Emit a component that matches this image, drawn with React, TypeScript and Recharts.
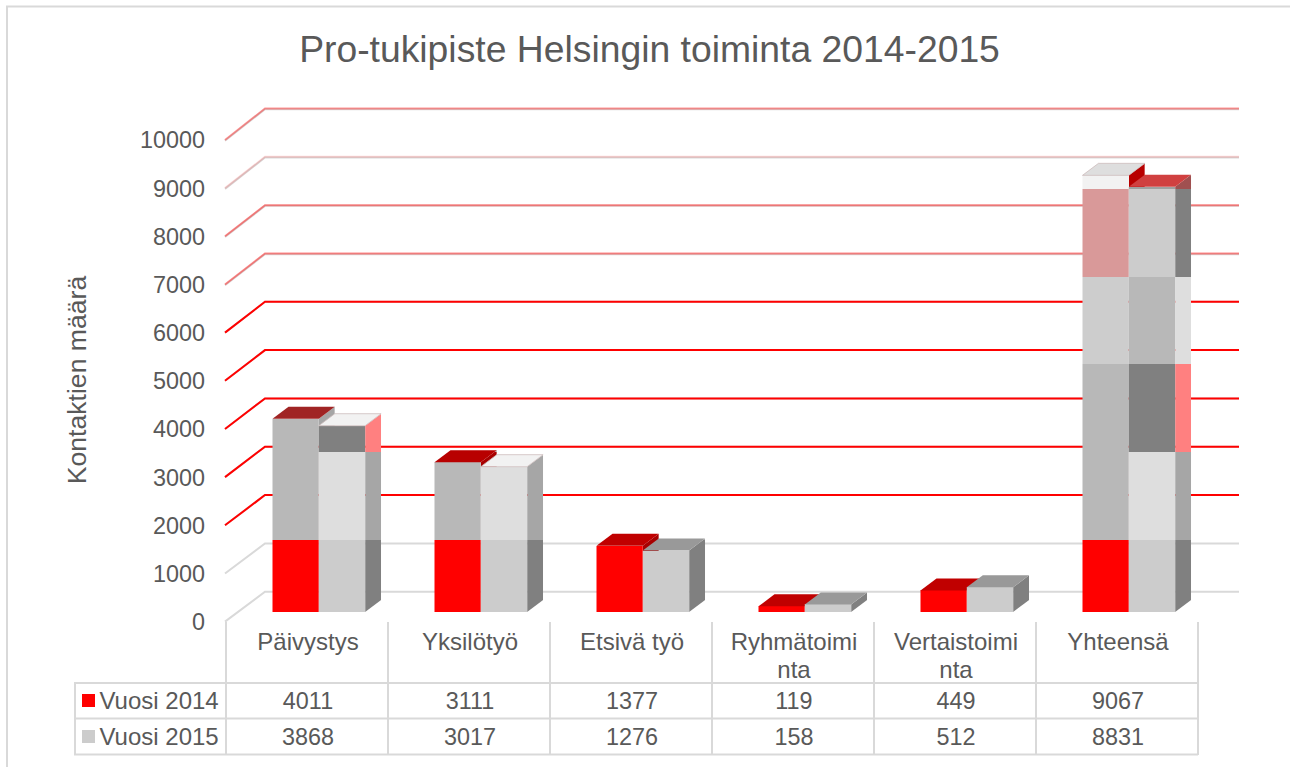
import { Bar, BarChart, CartesianGrid, XAxis, YAxis } from 'recharts';

const categories = ['Päivystys', 'Yksilötyö', 'Etsivä työ', 'Ryhmätoimi\nnta', 'Vertaistoimi\nnta', 'Yhteensä'];
const vuosi2014 = [4011, 3111, 1377, 119, 449, 9067];
const vuosi2015 = [3868, 3017, 1276, 158, 512, 8831];
const yTicks = [0, 1000, 2000, 3000, 4000, 5000, 6000, 7000, 8000, 9000, 10000];
// values where the picture's shading of the columns changes
const shadeStops = [1495, 3316, 5143, 6962, 8783];

const chartData = categories.map((name, i) => ({ name, v2014: vuosi2014[i], v2015: vuosi2015[i] }));

const TEXT = '#595959';
const LINE = '#d9d9d9';
const FONT = '"Liberation Sans", Arial, sans-serif';
const DX = 16;
const DY = 12;

// one colour per shade band
const palette2014 = {
  front: ['#ff0000', '#b8b8b8', '#b8b8b8', '#cdcdcd', '#d99999', '#f2f2f2'],
  side: ['#a80000', '#a80000', '#a6a6a6', '#a6a6a6', '#a6a6a6', '#b80000'],
  top: ['#c00000', '#b80000', '#a02424', '#a02424', '#a02424', '#dedede'],
};
const palette2015 = {
  front: ['#cccccc', '#dedede', '#808080', '#b8b8b8', '#cccccc', '#a0a0a0'],
  side: ['#808080', '#a6a6a6', '#ff8080', '#dedede', '#808080', '#a05050'],
  top: ['#999999', '#f2f2f2', '#f2f2f2', '#f2f2f2', '#f2f2f2', '#d04040'],
};

// how strongly the red rule shows over the grey one
const redOpacity: Record<number, number> = { 2000: 1, 3000: 1, 4000: 1, 5000: 1, 6000: 1, 7000: 0.45, 8000: 0.45, 9000: 0.15, 10000: 0.4 };

function Box({ x, y, width, height, val, colors, id }: any) {
  const bottom = y + height;
  const perUnit = height / val;
  const edges = [0, ...shadeStops, 1e9];
  const topBand = shadeStops.filter((s) => s <= val).length;
  const right = x + width;
  const topFill = colors.top[topBand];
  // the pale lids carry a faint outline in the picture
  const lightLid = topFill === '#f2f2f2' || topFill === '#dedede';
  return (
    <g>
      <clipPath id={id}>
        <polygon points={`${right},${y} ${right + DX},${y - DY} ${right + DX},${bottom - DY} ${right},${bottom}`} />
      </clipPath>
      <g clipPath={`url(#${id})`}>
        {colors.side.map((c: string, i: number) => {
          const lo = Math.round(bottom - edges[i] * perUnit);
          const hi = Math.round(Math.max(bottom - edges[i + 1] * perUnit, y - DY));
          if (lo <= hi) return null;
          return <rect key={i} x={right} y={hi} width={DX} height={lo - hi} fill={c} />;
        })}
      </g>
      {colors.front.map((c: string, i: number) => {
        const lo = Math.round(bottom - edges[i] * perUnit);
        const hi = Math.round(Math.max(bottom - edges[i + 1] * perUnit, y));
        if (lo <= hi) return null;
        return <rect key={i} x={x} y={hi} width={width} height={lo - hi} fill={c} />;
      })}
      <polygon
        points={`${x},${y} ${x + DX},${y - DY} ${right + DX},${y - DY} ${right},${y}`}
        fill={topFill}
        stroke={lightLid ? '#cdbcbc' : 'none'}
        strokeWidth={lightLid ? 0.8 : 0}
      />
    </g>
  );
}

function GridRule(props: any) {
  const { x1, x2, y1, key } = props;
  const value = Math.round((612 - y1) / 48.16) * 1000;
  const fx = x1 - 12.5;
  const bx = x1 + 27.5;
  const ex = x2 + 29.5;
  const fy = y1 + 9.6;
  const by = y1 - 20.3 - (612 - y1) * 0.0033;
  const red = redOpacity[value] ?? 0;
  const path = `M${fx},${fy} L${bx},${by} L${ex},${by}`;
  return (
    <g key={key ?? value}>
      <path d={path} fill="none" stroke={LINE} strokeWidth={2} transform={red < 1 && red > 0 ? 'translate(0,0.7)' : undefined} />
      {red > 0 && <path d={path} fill="none" stroke="#ff0000" strokeWidth={2} strokeOpacity={red} />}
    </g>
  );
}

function ValueTick({ y, payload }: any) {
  return (
    <text x={205} y={y + 18} textAnchor="end" fontSize={23.4} fontFamily={FONT} fill={TEXT}>
      {payload.value}
    </text>
  );
}

function TableTick({ x, index, payload }: any) {
  const cx = x - 10.5;
  const left = x - 92.5;
  const lines = String(payload.value).split('\n');
  return (
    <g fontSize={23.4} fontFamily={FONT} fill={TEXT} textAnchor="middle">
      <line x1={left} y1={622} x2={left} y2={755} stroke={LINE} strokeWidth={2} />
      {index === categories.length - 1 && <line x1={left + 162} y1={622} x2={left + 162} y2={755} stroke={LINE} strokeWidth={2} />}
      {lines.map((t, i) => (
        <text key={t} x={cx} y={650 + i * 27.5} fontSize={24}>{t}</text>
      ))}
      <text x={cx} y={708.5}>{vuosi2014[index]}</text>
      <text x={cx} y={744.5}>{vuosi2015[index]}</text>
    </g>
  );
}

export default function App() {
  return (
    <div style={{ position: 'absolute', left: 0, top: 0, width: 1290, height: 767, background: '#fff' }}>
      <BarChart
        width={1290}
        height={767}
        data={chartData}
        barSize={46.3}
        barGap={0}
        margin={{ top: 130.4, right: 80.5, bottom: 154, left: 236.5 }}
      >
        {/* chart frame */}
        <path d="M7,767 L7,6.5 L1290,6.5" fill="none" stroke={LINE} strokeWidth={2} />
        <text x={649.5} y={62} textAnchor="middle" fontSize={37.3} fontFamily={FONT} fill={TEXT}>
          Pro-tukipiste Helsingin toiminta 2014-2015
        </text>
        <text x={86} y={380} textAnchor="middle" fontSize={26.6} fontFamily={FONT} fill={TEXT} transform="rotate(-90 86 380)">
          Kontaktien määrä
        </text>
        {/* data table rows and legend keys */}
        <path d="M75,683 L1198,683 M75,718.5 L1198,718.5 M75,754.5 L1198,754.5 M75,682 L75,755.5" fill="none" stroke={LINE} strokeWidth={2} />
        <rect x={82} y={694} width={13} height={13} fill="#ff0000" />
        <rect x={82} y={730} width={13} height={13} fill="#cccccc" />
        <text x={99.5} y={708.5} fontSize={24} fontFamily={FONT} fill={TEXT}>Vuosi 2014</text>
        <text x={99.5} y={744.5} fontSize={24} fontFamily={FONT} fill={TEXT}>Vuosi 2015</text>

        <CartesianGrid vertical={false} horizontal={GridRule} />
        <XAxis dataKey="name" height={1} axisLine={false} tickLine={false} interval={0} tick={TableTick} />
        <YAxis
          width={1}
          domain={[0, 10000]}
          ticks={yTicks}
          interval={0}
          axisLine={false}
          tickLine={false}
          tick={ValueTick}
        />
        <Bar
          dataKey="v2014"
          isAnimationActive={false}
          shape={(p: any) => <Box {...p} val={p.payload.v2014} colors={palette2014} id={`s14-${p.index}`} />}
        />
        <Bar
          dataKey="v2015"
          isAnimationActive={false}
          shape={(p: any) => <Box {...p} val={p.payload.v2015} colors={palette2015} id={`s15-${p.index}`} />}
        />
      </BarChart>
    </div>
  );
}
